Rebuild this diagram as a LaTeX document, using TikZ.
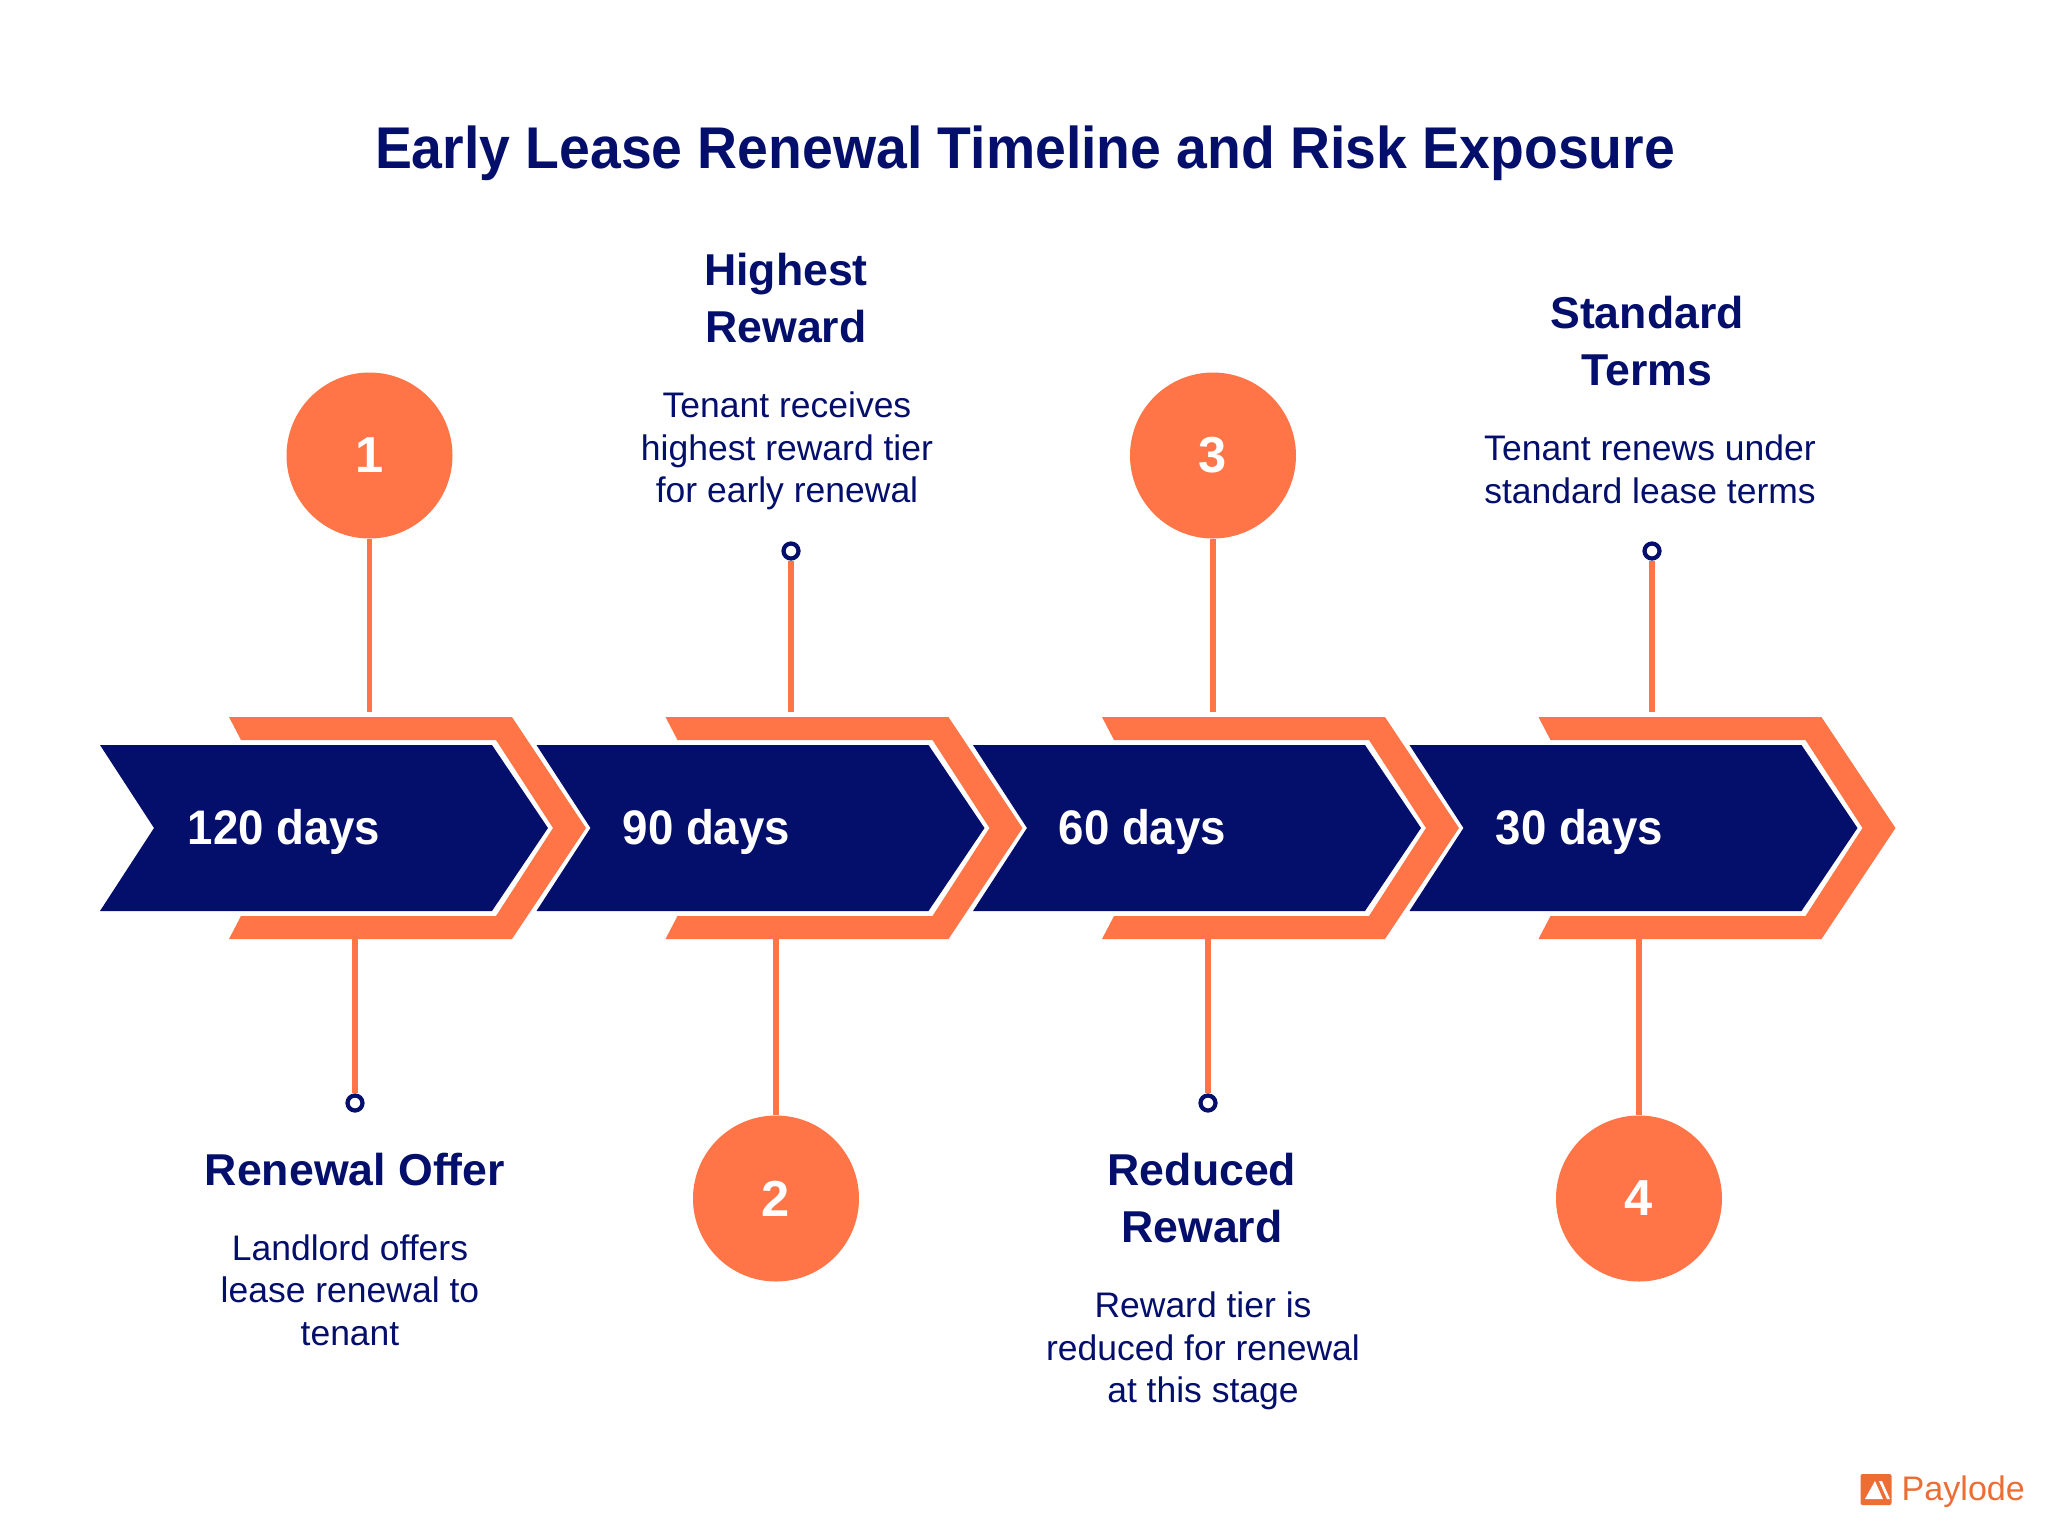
\documentclass[tikz,border=0pt]{standalone}
\usepackage{fontspec}
\setmainfont{Liberation Sans}
\newfontfamily\tightfont[FakeStretch=0.94]{Liberation Sans}
\definecolor{navy}{HTML}{040E6B}
\definecolor{coral}{HTML}{FF7547}
\definecolor{brand}{HTML}{EC6E35}
\tikzset{
  band/.style={fill=navy},
  chevron/.style={fill=coral},
  stem/.style={draw=coral, line width=1.5pt},
  badge/.style={circle, fill=coral, text=white, minimum size=1.66cm, inner sep=0pt, font=\fontsize{14.4}{14}\selectfont\bfseries},
  dot/.style={circle, draw=navy, fill=white, line width=1.2pt, minimum size=0.15cm, inner sep=0pt},
  days/.style={anchor=west, text=white, inner sep=0pt, font=\tightfont\fontsize{13.8}{14}\selectfont\bfseries},
  heading/.style={align=center, text=navy, inner sep=0pt, font=\fontsize{12.7}{16.2}\selectfont\bfseries},
  body/.style={align=center, text=navy, inner sep=0pt, font=\fontsize{10.1}{12.1}\selectfont},
}
\begin{document}
\begin{tikzpicture}[y=-1cm]
\useasboundingbox (0,0) rectangle (20.48,15.26);

\node[align=center, text=navy, font=\tightfont\fontsize{16.75}{20}\selectfont\bfseries] (title) at (10.25,1.53) {Early Lease Renewal Timeline and Risk Exposure};

% bands
\fill[band] (1.00,7.45) -- (4.92,7.45) -- (5.48,8.28) -- (4.92,9.11) -- (1.00,9.11) -- (1.54,8.28) -- cycle;
\fill[band] (5.365,7.45) -- (9.285,7.45) -- (9.845,8.28) -- (9.285,9.11) -- (5.365,9.11) -- (5.905,8.28) -- cycle;
\fill[band] (9.73,7.45) -- (13.65,7.45) -- (14.21,8.28) -- (13.65,9.11) -- (9.73,9.11) -- (10.27,8.28) -- cycle;
\fill[band] (14.095,7.45) -- (18.015,7.45) -- (18.575,8.28) -- (18.015,9.11) -- (14.095,9.11) -- (14.635,8.28) -- cycle;

\fill[chevron] (2.29,7.17) -- (5.12,7.17) -- (5.86,8.28) -- (5.12,9.39) -- (2.29,9.39) -- (2.41,9.16) -- (4.96,9.16) -- (5.53,8.28) -- (4.96,7.40) -- (2.41,7.40) -- cycle;
\fill[chevron] (6.655,7.17) -- (9.485,7.17) -- (10.225,8.28) -- (9.485,9.39) -- (6.655,9.39) -- (6.775,9.16) -- (9.325,9.16) -- (9.895,8.28) -- (9.325,7.40) -- (6.775,7.40) -- cycle;
\fill[chevron] (11.02,7.17) -- (13.85,7.17) -- (14.59,8.28) -- (13.85,9.39) -- (11.02,9.39) -- (11.14,9.16) -- (13.69,9.16) -- (14.26,8.28) -- (13.69,7.40) -- (11.14,7.40) -- cycle;
\fill[chevron] (15.385,7.17) -- (18.215,7.17) -- (18.955,8.28) -- (18.215,9.39) -- (15.385,9.39) -- (15.505,9.16) -- (18.055,9.16) -- (18.625,8.28) -- (18.055,7.40) -- (15.505,7.40) -- cycle;

\node[days] (days1) at (1.87,8.32) {120 days};
\node[days] (days2) at (6.22,8.32) {90 days};
\node[days] (days3) at (10.58,8.32) {60 days};
\node[days] (days4) at (14.95,8.32) {30 days};

% badges and dots
\node[badge] (badge1) at (3.695,4.555) {1};
\node[badge] (badge2) at (7.76,11.985) {2};
\node[badge] (badge3) at (12.13,4.555) {3};
\node[badge] (badge4) at (16.39,11.985) {4};

\node[dot] (dot1) at (3.55,11.03) {};
\node[dot] (dot2) at (7.91,5.51) {};
\node[dot] (dot3) at (12.08,11.03) {};
\node[dot] (dot4) at (16.52,5.51) {};

\coordinate (up1) at (3.695,7.12);
\coordinate (low1) at (3.55,9.39);
\coordinate (up2) at (7.91,7.12);
\coordinate (low2) at (7.76,9.39);
\coordinate (up3) at (12.13,7.12);
\coordinate (low3) at (12.08,9.39);
\coordinate (up4) at (16.52,7.12);
\coordinate (low4) at (16.39,9.39);

\draw[stem] (badge1) -- (up1);
\draw[stem] (low1) -- (dot1);
\draw[stem] (dot2) -- (up2);
\draw[stem] (low2) -- (badge2);
\draw[stem] (badge3) -- (up3);
\draw[stem] (low3) -- (dot3);
\draw[stem] (dot4) -- (up4);
\draw[stem] (low4) -- (badge4);

% texts
\node[heading] (head1) at (3.55,11.695) {Renewal Offer};
\node[body] (text1) at (3.50,12.90) {Landlord offers\\lease renewal to\\tenant};

\node[heading] (head2) at (7.86,2.98) {Highest\\Reward};
\node[body] (text2) at (7.87,4.51) {Tenant receives\\highest reward tier\\for early renewal};

\node[heading] (head3) at (12.02,11.98) {Reduced\\Reward};
\node[body] (text3) at (12.03,13.51) {Reward tier is\\reduced for renewal\\at this stage};

\node[heading] (head4) at (16.47,3.415) {Standard\\Terms};
\node[body] (text4) at (16.50,4.695) {Tenant renews under\\standard lease terms};

% logo
\node[fill=brand, rounded corners=0.02cm, minimum size=0.31cm, inner sep=0pt] (mark) at (18.76,14.895) {};
\fill[white] (18.65,14.99) -- (18.75,14.81) -- (18.83,14.99) -- cycle;
\fill[white] (18.79,14.81) -- (18.82,14.81) -- (18.90,14.99) -- (18.87,14.99) -- cycle;
\node[anchor=west, text=brand, inner sep=0pt, font=\fontsize{9.7}{12}\selectfont] (logo) at (19.01,14.92) {Paylode};

\end{tikzpicture}
\end{document}
